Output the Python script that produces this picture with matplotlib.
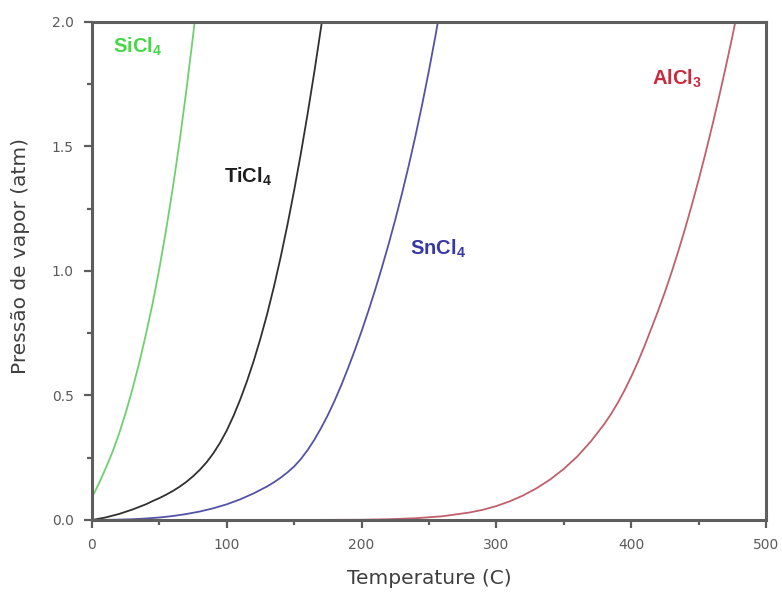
import matplotlib
matplotlib.use("Agg")
import matplotlib.pyplot as plt
from matplotlib.ticker import MultipleLocator, FormatStrFormatter

plt.rcParams['font.family'] = ['DejaVu Sans']
plt.rcParams['mathtext.fontset'] = 'custom'
plt.rcParams['mathtext.rm'] = 'Liberation Sans'
plt.rcParams['mathtext.bf'] = 'Liberation Sans:bold'

# Data (temperature in C, pressure in atm)
sicl4_t = [0, 5, 10, 15, 20, 25, 30, 35, 40, 45, 50, 55, 60, 65, 70, 75, 76.2]
sicl4_p = [0.09, 0.145, 0.205, 0.27, 0.345, 0.43, 0.525, 0.63, 0.745, 0.87, 1.01,
           1.165, 1.335, 1.52, 1.725, 1.945, 2.0]

ticl4_t = [0, 10, 20, 30, 40, 45, 50, 55, 60, 65, 70, 75, 80, 85, 90, 95, 100, 105,
           110, 115, 120, 125, 130, 135, 140, 145, 150, 155, 160, 165, 170, 171]
ticl4_p = [0.0, 0.01, 0.024, 0.042, 0.063, 0.076, 0.088, 0.1015, 0.1165, 0.1335,
           0.153, 0.1755, 0.2015, 0.2315, 0.2675, 0.31, 0.3595, 0.418, 0.484, 0.5575,
           0.639, 0.729, 0.828, 0.937, 1.056, 1.185, 1.324, 1.473, 1.632, 1.801, 1.98,
           2.017]

sncl4_t = [0, 10, 20, 30, 40, 50, 60, 70, 80, 90, 100, 110, 120, 130, 135, 140, 145,
           150, 155, 160, 165, 170, 175, 180, 185, 190, 195, 200, 205, 210, 215, 220,
           225, 230, 235, 240, 245, 250, 255, 257]
sncl4_p = [0.0, 0.0005, 0.0015, 0.003, 0.006, 0.01, 0.016, 0.024, 0.034, 0.047, 0.063,
           0.083, 0.107, 0.135, 0.1515, 0.17, 0.191, 0.215, 0.245, 0.281, 0.3225,
           0.3695, 0.4215, 0.479, 0.542, 0.61, 0.682, 0.758, 0.8385, 0.923, 1.0125,
           1.1065, 1.206, 1.3115, 1.4235, 1.543, 1.67, 1.8055, 1.95, 2.012]

alcl3_t = [150, 200, 220, 240, 260, 280, 290, 300, 310, 320, 330, 340, 350, 360, 370,
           380, 385, 390, 395, 400, 405, 410, 415, 420, 425, 430, 435, 440, 445, 450,
           455, 460, 465, 470, 475, 478]
alcl3_p = [0.0, 0.001, 0.003, 0.007, 0.015, 0.03, 0.041, 0.056, 0.075, 0.099, 0.128,
           0.163, 0.205, 0.255, 0.315, 0.385, 0.425, 0.47, 0.52, 0.575, 0.635, 0.7,
           0.77, 0.84, 0.915, 0.995, 1.08, 1.17, 1.265, 1.365, 1.47, 1.58, 1.695,
           1.815, 1.94, 2.02]

labels = [r'$\mathbf{SiCl}_\mathbf{4}$', r'$\mathbf{TiCl}_\mathbf{4}$',
          r'$\mathbf{SnCl}_\mathbf{4}$', r'$\mathbf{AlCl}_\mathbf{3}$']
label_pos_t = [34, 116, 257, 434]
label_pos_p = [1.90, 1.38, 1.09, 1.77]

line_colors = ['#6fd06f', '#303030', '#5353a6', '#c0606c']
text_colors = ['#45d845', '#1e1e1e', '#3838a8', '#c92a3e']

fig = plt.figure(figsize=(7.82, 5.99), dpi=100)
ax = fig.add_axes([0.1176, 0.1319, 0.8619, 0.8314])

series = [(sicl4_t, sicl4_p), (ticl4_t, ticl4_p), (sncl4_t, sncl4_p), (alcl3_t, alcl3_p)]
for (t, p), c in zip(series, line_colors):
    ax.plot(t, p, color=c, lw=1.3, solid_joinstyle='round')

for lab, tx, ty, c in zip(labels, label_pos_t, label_pos_p, text_colors):
    ax.text(tx, ty, lab, color=c, fontsize=14.5, ha='center', va='center')

ax.set_xlim(0, 500)
ax.set_ylim(0, 2.0)
ax.xaxis.set_major_locator(MultipleLocator(100))
ax.xaxis.set_minor_locator(MultipleLocator(50))
ax.yaxis.set_major_locator(MultipleLocator(0.5))
ax.yaxis.set_minor_locator(MultipleLocator(0.25))
ax.yaxis.set_major_formatter(FormatStrFormatter('%.1f'))

for s in ax.spines.values():
    s.set_color('#5e5e5e')
    s.set_linewidth(2.2)
ax.tick_params(which='major', direction='out', length=6, width=1.6, color='#5e5e5e',
               labelsize=10, labelcolor='#5a5a5a', pad=7)
ax.tick_params(which='minor', direction='out', length=3.5, width=1.6, color='#5e5e5e')
ax.tick_params(top=False, right=False)

ax.set_xlabel('Temperature (C)', fontsize=14.5, color='#3f3f3f', labelpad=12)
ax.set_ylabel('Pressão de vapor (atm)', fontsize=14.5, color='#3f3f3f')
ax.yaxis.set_label_coords(-0.092, 0.53)

fig.savefig('out.png', dpi=100)
